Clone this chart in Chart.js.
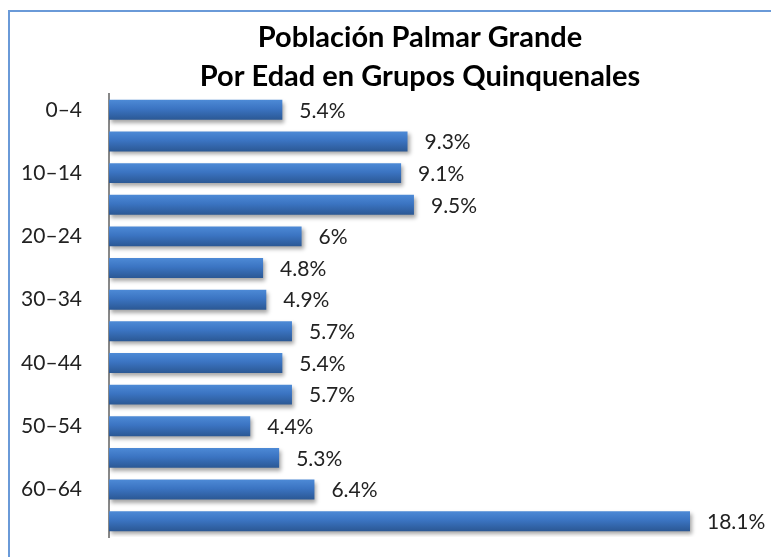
<!DOCTYPE html>
<html>
<head>
<meta charset="utf-8">
<script src="https://cdn.jsdelivr.net/npm/chart.js@4/dist/chart.umd.min.js"></script>
<style>
  html, body { margin: 0; padding: 0; background: #fff; }
  #wrap { position: relative; width: 771px; height: 557px; overflow: hidden; }
  #frame { position: absolute; left: 8px; top: 10px; width: 900px; height: 700px;
           border-left: 2px solid #6a9ad8; border-top: 2px solid #6a9ad8; box-sizing: border-box; }
  canvas { position: absolute; left: 0; top: 0; }
</style>
</head>
<body>
<div id="wrap">
  <div id="frame"></div>
  <canvas id="c" width="771" height="557"></canvas>
</div>
<script>
const titleLines = ["Población Palmar Grande", "Por Edad en Grupos Quinquenales"];
const categories = ["0–4", "5–9", "10–14", "15–19", "20–24", "25–29", "30–34", "35–39", "40–44", "45–49", "50–54", "55–59", "60–64", "65+"];
const values = [5.4, 9.3, 9.1, 9.5, 6, 4.8, 4.9, 5.7, 5.4, 5.7, 4.4, 5.3, 6.4, 18.1];
const valueLabels = ["5.4%", "9.3%", "9.1%", "9.5%", "6%", "4.8%", "4.9%", "5.7%", "5.4%", "5.7%", "4.4%", "5.3%", "6.4%", "18.1%"];

const shadowPlugin = {
  id: 'shadow',
  beforeDatasetsDraw(chart) {
    const ctx = chart.ctx;
    const meta = chart.getDatasetMeta(0);
    meta.data.forEach((bar) => {
      const h = bar.height || 20;
      const g = ctx.createLinearGradient(0, bar.y - h / 2, 0, bar.y + h / 2);
      g.addColorStop(0, '#4d8ad6');
      g.addColorStop(0.45, '#3b74c2');
      g.addColorStop(1, '#2b5894');
      bar.options = Object.assign({}, bar.options, { backgroundColor: g });
    });
    ctx.save();
    ctx.shadowColor = 'rgba(0,0,0,0.35)';
    ctx.shadowBlur = 4;
    ctx.shadowOffsetX = 2;
    ctx.shadowOffsetY = 3;
  },
  afterDatasetsDraw(chart) {
    chart.ctx.restore();
  }
};

const labelPlugin = {
  id: 'valueLabels',
  afterDatasetsDraw(chart) {
    const ctx = chart.ctx;
    const meta = chart.getDatasetMeta(0);
    ctx.save();
    ctx.font = '21px Lato, "Open Sans", sans-serif';
    ctx.fillStyle = '#222';
    ctx.textBaseline = 'middle';
    ctx.textAlign = 'left';
    meta.data.forEach((bar, i) => {
      ctx.fillText(valueLabels[i], bar.x + 17, bar.y + 1);
    });
    ctx.restore();
  }
};

const titlePlugin = {
  id: 'titleText',
  afterDraw(chart) {
    const ctx = chart.ctx;
    ctx.save();
    ctx.font = 'bold 29px Lato, "Open Sans", sans-serif';
    ctx.fillStyle = '#000';
    ctx.textAlign = 'center';
    ctx.textBaseline = 'middle';
    ctx.fillText(titleLines[0], 420, 38);
    ctx.fillText(titleLines[1], 420, 77);
    ctx.restore();
  }
};

new Chart(document.getElementById('c'), {
  type: 'bar',
  data: {
    labels: categories,
    datasets: [{
      data: values,
      backgroundColor: '#3b73c0',
      borderWidth: 0,
      barPercentage: 0.9,
      categoryPercentage: 0.7
    }]
  },
  options: {
    indexAxis: 'y',
    responsive: false,
    animation: false,
    layout: { padding: { top: 94, bottom: 20, left: 0, right: 20 } },
    plugins: { legend: { display: false }, title: { display: false }, tooltip: { enabled: false } },
    scales: {
      x: { display: false, min: 0, max: 20 },
      y: {
        afterFit(scale) { scale.width = 109; scale.paddingTop = 0; scale.paddingBottom = 0; },
        grid: { display: true, color: 'rgba(0,0,0,0)', drawTicks: false },
        border: { display: true, color: '#888', width: 2 },
        ticks: {
          autoSkip: false,
          padding: 27,
          color: '#222',
          font: { size: 21, family: 'Lato, "Open Sans", sans-serif' },
          callback(value, index) { return index % 2 === 0 ? categories[index] : ''; }
        }
      }
    }
  },
  plugins: [shadowPlugin, labelPlugin, titlePlugin]
});
</script>
</body>
</html>
